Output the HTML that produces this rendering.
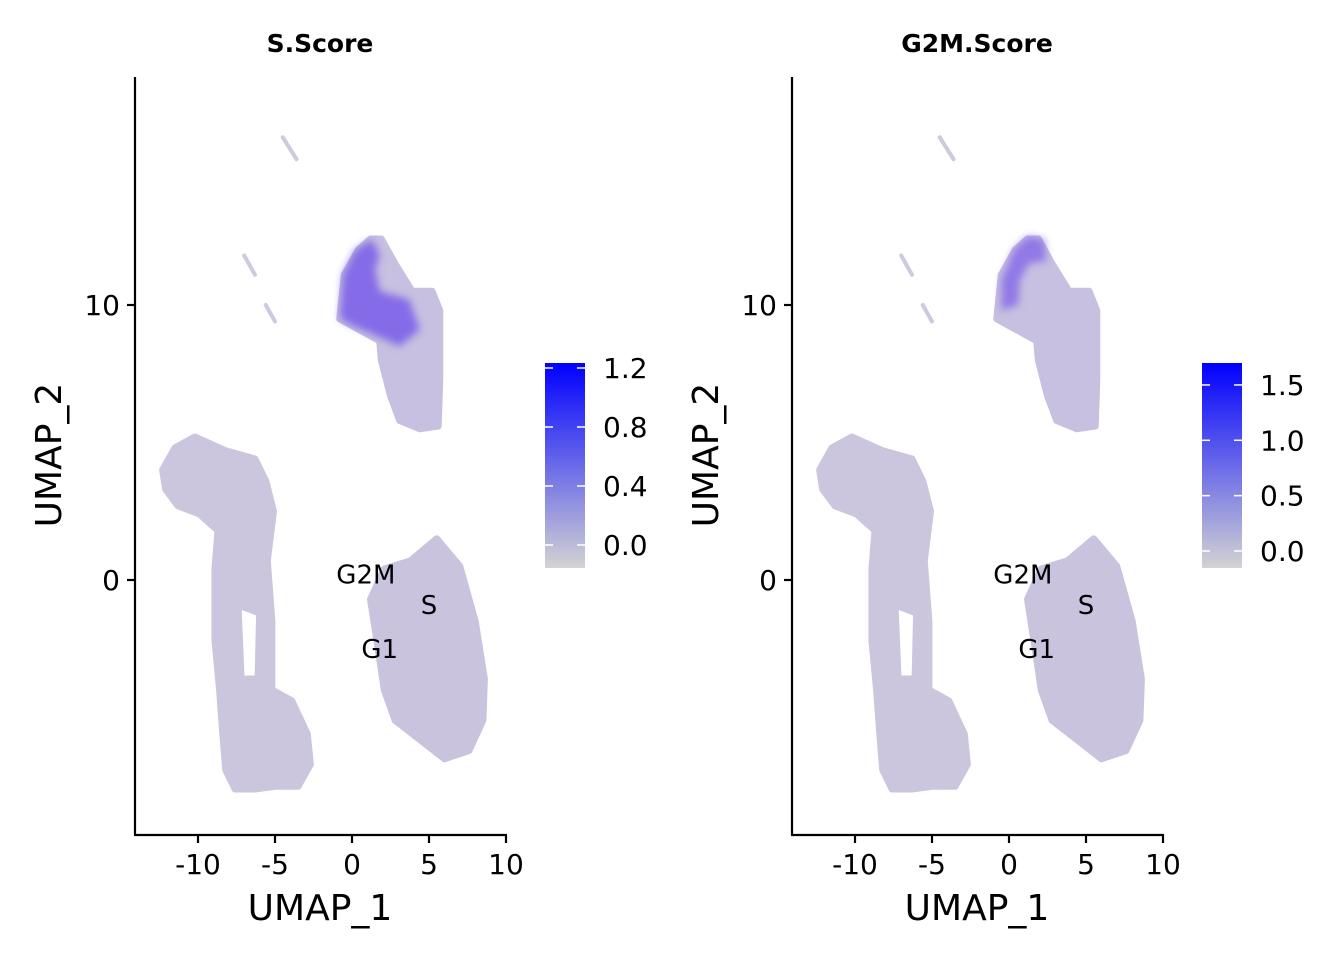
<!DOCTYPE html>
<html><head><meta charset="utf-8"><style>
body{margin:0;background:#fff;}
svg text{font-family:"DejaVu Sans","Liberation Sans",sans-serif;}
</style></head><body>
<svg id="chart" width="1344" height="960" xmlns="http://www.w3.org/2000/svg">
<defs>
<linearGradient id="gS" x1="0" y1="1" x2="0" y2="0"><stop offset="0" stop-color="#d3d3d3"/><stop offset="1" stop-color="#0000ff"/></linearGradient>
<filter id="soft" x="-20%" y="-20%" width="140%" height="140%"><feGaussianBlur stdDeviation="4"/></filter>
</defs>
</svg>
<script>
const xTicks=[-10,-5,0,5,10];
const yTicks=[0,10];
const clusterLeft=[[-12.3,4.0],[-11.5,4.8],[-10.2,5.2],[-8.2,4.7],[-6.3,4.4],[-5.6,3.6],[-5.1,2.5],[-5.5,0.7],[-5.2,-1.5],[-5.2,-4.0],[-3.9,-4.4],[-2.9,-5.6],[-2.7,-6.7],[-3.5,-7.5],[-5.0,-7.5],[-6.3,-7.6],[-7.6,-7.6],[-8.2,-6.9],[-8.4,-5.5],[-8.6,-4.0],[-8.9,-2.2],[-8.9,0.4],[-8.7,1.8],[-9.9,2.4],[-11.3,2.7],[-12.1,3.3]];
const clusterLeftHole=[[-7.4,-0.9],[-6.0,-1.2],[-6.1,-3.6],[-7.2,-3.6]];
const clusterRight=[[1.2,-0.7],[2.1,0.4],[3.8,0.7],[5.5,1.5],[7.0,0.5],[8.0,-1.5],[8.6,-3.6],[8.5,-5.1],[7.6,-6.2],[6.0,-6.5],[4.4,-5.8],[2.8,-5.1],[2.1,-4.0],[1.7,-2.5]];
const clusterTop=[[-0.8,9.5],[-0.5,11.1],[0.4,12.0],[1.2,12.4],[1.9,12.4],[2.8,11.5],[3.9,10.5],[5.2,10.5],[5.7,9.8],[5.7,7.3],[5.6,5.6],[4.4,5.5],[3.1,5.8],[2.5,6.7],[1.9,8.0],[1.8,8.7],[0.5,9.1]];
const sHigh=[[-0.8,9.5],[-0.6,11.1],[0.2,12.0],[1.3,12.4],[1.8,11.8],[1.5,11.3],[1.8,10.5],[3.7,10.2],[4.4,9.1],[3.1,8.5],[1.5,8.9],[0.2,9.2]];
const g2mHigh=[[-0.5,10.9],[0.3,12.0],[1.2,12.5],[2.3,12.4],[2.4,11.6],[1.3,11.5],[0.7,10.9],[0.6,10.0],[-0.5,9.8]];
const streaks=[[[-4.5,16.1],[-3.6,15.3]],[[-7.0,11.8],[-6.3,11.1]],[[-5.6,10.0],[-5.0,9.4]]];
const phaseLabels=["G2M","S","G1"];
const phasePos=[[0.9,0.2],[5.0,-0.9],[1.8,-2.5]];
const sLegendTicks=[0.0,0.4,0.8,1.2];
const gLegendTicks=[0.0,0.5,1.0,1.5];

const svg=document.getElementById('chart');
const NS='http://www.w3.org/2000/svg';
function mk(tag,attrs,parent){const e=document.createElementNS(NS,tag);for(const k in attrs)e.setAttribute(k,attrs[k]);(parent||svg).appendChild(e);return e;}
function poly(pts,sx,sy){return 'M'+pts.map(p=>sx(p[0]).toFixed(1)+','+sy(p[1]).toFixed(1)).join('L')+'Z';}

function panel(off,title,high,highColor,ticks,zeroY,perUnit,name){
  const g=mk('g',{});
  
  
  const sx=v=>off+352+v*15.4, sy=v=>580-v*27.5;
  const t=mk('text',{x:off+320,y:52,'font-size':25,'font-weight':'bold','text-anchor':'middle'},g);t.textContent=title;
  
  
  const cg=mk('g',{},g);
  const st={'stroke-width':7,'stroke-linejoin':'round'};
  const c1=mk('path',Object.assign({d:poly(clusterLeft,sx,sy)+poly(clusterLeftHole,sx,sy),fill:'#cbc6de',stroke:'#cbc6de','fill-rule':'evenodd'},st),cg);
  
  
  const c2=mk('path',Object.assign({d:poly(clusterRight,sx,sy),fill:'#c9c3de',stroke:'#c9c3de'},st),cg);
  
  
  const c3=mk('path',Object.assign({d:poly(clusterTop,sx,sy),fill:'#c7c0e0',stroke:'#c7c0e0'},st),cg);
  
  
  const hp=mk('path',{d:poly(high,sx,sy),fill:highColor,opacity:0.8,filter:'url(#soft)'},cg);
  
  
  streaks.forEach(s=>{const l=mk('line',{x1:sx(s[0][0]),y1:sy(s[0][1]),x2:sx(s[1][0]),y2:sy(s[1][1]),stroke:'#cdc9de','stroke-width':4,'stroke-linecap':'round'},g);
    
    });
  phaseLabels.forEach((lab,i)=>{const tx=mk('text',{x:sx(phasePos[i][0]),y:sy(phasePos[i][1])+9,'font-size':26,'text-anchor':'middle'},g);tx.textContent=lab;
    
    });
  mk('line',{x1:off+135,y1:77,x2:off+135,y2:835,stroke:'#000','stroke-width':2.2},g);
  mk('line',{x1:off+134,y1:835,x2:off+507,y2:835,stroke:'#000','stroke-width':2.2},g);
  xTicks.forEach(v=>{mk('line',{x1:sx(v),y1:835,x2:sx(v),y2:843,stroke:'#000','stroke-width':2.2},g);
    const tx=mk('text',{x:sx(v),y:874,'font-size':28,'text-anchor':'middle'},g);tx.textContent=v;
    
    });
  yTicks.forEach(v=>{mk('line',{x1:off+127,y1:sy(v),x2:off+135,y2:sy(v),stroke:'#000','stroke-width':2.2},g);
    const tx=mk('text',{x:off+120,y:sy(v)+10,'font-size':28,'text-anchor':'end'},g);tx.textContent=v;
    
    });
  const xt=mk('text',{x:off+320,y:920,'font-size':36,'text-anchor':'middle'},g);xt.textContent='UMAP_1';
  
  
  const yt=mk('text',{x:0,y:0,'font-size':36,'text-anchor':'middle',transform:`translate(${off+61},455) rotate(-90)`},g);yt.textContent='UMAP_2';
  
  
  const lx=off+545;
  const bar=mk('rect',{x:lx,y:363,width:40,height:205,fill:'url(#gS)'},g);
  
  
  const ly=v=>zeroY-v*perUnit;
  ticks.forEach(v=>{const y=ly(v);
    mk('line',{x1:lx,y1:y,x2:lx+8,y2:y,stroke:'#fff','stroke-width':1.5},g);
    mk('line',{x1:lx+32,y1:y,x2:lx+40,y2:y,stroke:'#fff','stroke-width':1.5},g);
    const tx=mk('text',{x:lx+58,y:y+10,'font-size':28},g);tx.textContent=v.toFixed(1);
    
    });
}
panel(0,'S.Score',sHigh,'#7457ea',sLegendTicks,545,147.5,'s-score-panel');
panel(657,'G2M.Score',g2mHigh,'#8468e8',gLegendTicks,551,110.7,'g2m-score-panel');
</script>
</body></html>
